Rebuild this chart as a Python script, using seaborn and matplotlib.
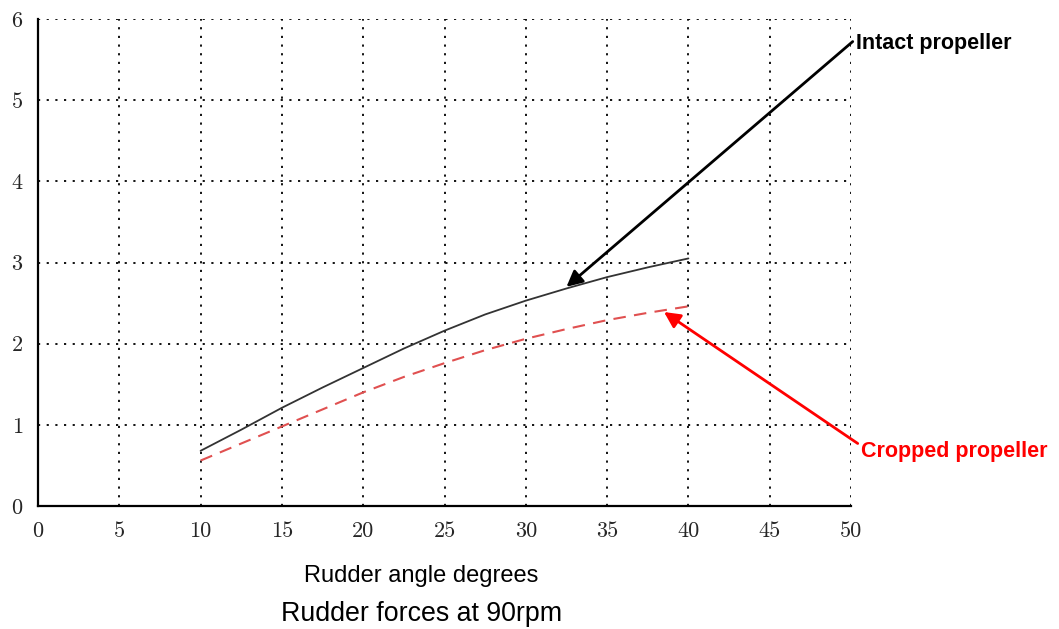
import matplotlib
matplotlib.use("Agg")
import matplotlib.pyplot as plt
import seaborn as sns
import pandas as pd

angles = [10, 12.5, 15, 17.5, 20, 22.5, 25, 27.5, 30, 32.5, 35, 37.5, 40]
intact = [0.68, 0.94, 1.21, 1.46, 1.70, 1.94, 2.16, 2.36, 2.53, 2.68, 2.82, 2.94, 3.05]
cropped = [0.56, 0.77, 0.98, 1.19, 1.40, 1.59, 1.76, 1.92, 2.06, 2.18, 2.29, 2.38, 2.46]
x_ticks = [0, 5, 10, 15, 20, 25, 30, 35, 40, 45, 50]
y_ticks = [0, 1, 2, 3, 4, 5, 6]

sns.set_style("white")
plt.rcParams['font.family'] = ['Liberation Sans', 'DejaVu Sans']

df = pd.DataFrame({
    "angle": angles * 2,
    "force": intact + cropped,
    "series": ["Intact"] * len(angles) + ["Cropped"] * len(angles),
})

fig = plt.figure(figsize=(10.59, 6.29), dpi=100)
ax = fig.add_axes([38 / 1059, 1 - 506 / 629, (851 - 38) / 1059, (506 - 19) / 629])

ax.grid(True, color="black", linestyle=(0, (1.2, 3.6)), linewidth=1.3)
ax.set_axisbelow(True)

sns.lineplot(data=df[df.series == "Intact"], x="angle", y="force", ax=ax,
             color="#333333", linewidth=1.3)
sns.lineplot(data=df[df.series == "Cropped"], x="angle", y="force", ax=ax,
             color="#e05050", linewidth=1.5, linestyle=(0, (6, 4)))

ax.set_xlim(0, 50)
ax.set_ylim(0, 6)
ax.set_xticks(x_ticks)
ax.set_yticks(y_ticks)
ax.set_xticklabels([str(t) for t in x_ticks], fontfamily="cmr10", fontsize=16)
ax.set_yticklabels([str(t) for t in y_ticks], fontfamily="cmr10", fontsize=16)
for s in ["top", "right"]:
    ax.spines[s].set_visible(False)
for s in ["left", "bottom"]:
    ax.spines[s].set_color("black")
    ax.spines[s].set_linewidth(1.6)
ax.tick_params(axis="both", direction="inout", length=8, width=1.2, color="black")
ax.tick_params(axis="x", pad=7)
ax.tick_params(axis="y", pad=7)
ax.set_xlabel("")
ax.set_ylabel("")

ax.annotate("Intact propeller", xy=(32.5, 2.70), xycoords="data",
            xytext=(856 / 1059, 1 - 44 / 629), textcoords="figure fraction",
            fontsize=15.5, fontweight="bold", color="black", ha="left", va="center",
            arrowprops=dict(arrowstyle="-|>", color="black", lw=2,
                            mutation_scale=24, shrinkA=0, shrinkB=0,
                            relpos=(0, 0.75)),
            annotation_clip=False)
ax.annotate("Cropped propeller", xy=(38.5, 2.39), xycoords="data",
            xytext=(861 / 1059, 1 - 452 / 629), textcoords="figure fraction",
            fontsize=15.5, fontweight="bold", color="#ff0000", ha="left", va="center",
            arrowprops=dict(arrowstyle="-|>", color="#ff0000", lw=2,
                            mutation_scale=24, shrinkA=0, shrinkB=0,
                            relpos=(0, 0.8)),
            annotation_clip=False)

fig.text(421 / 1059, 1 - 576 / 629, "Rudder angle degrees", ha="center", va="center",
         fontsize=17, color="black")
fig.text(422 / 1059, 1 - 614 / 629, "Rudder forces at 90rpm", ha="center", va="center",
         fontsize=19.3, color="black")

fig.savefig("out.png", dpi=100, facecolor="white")
